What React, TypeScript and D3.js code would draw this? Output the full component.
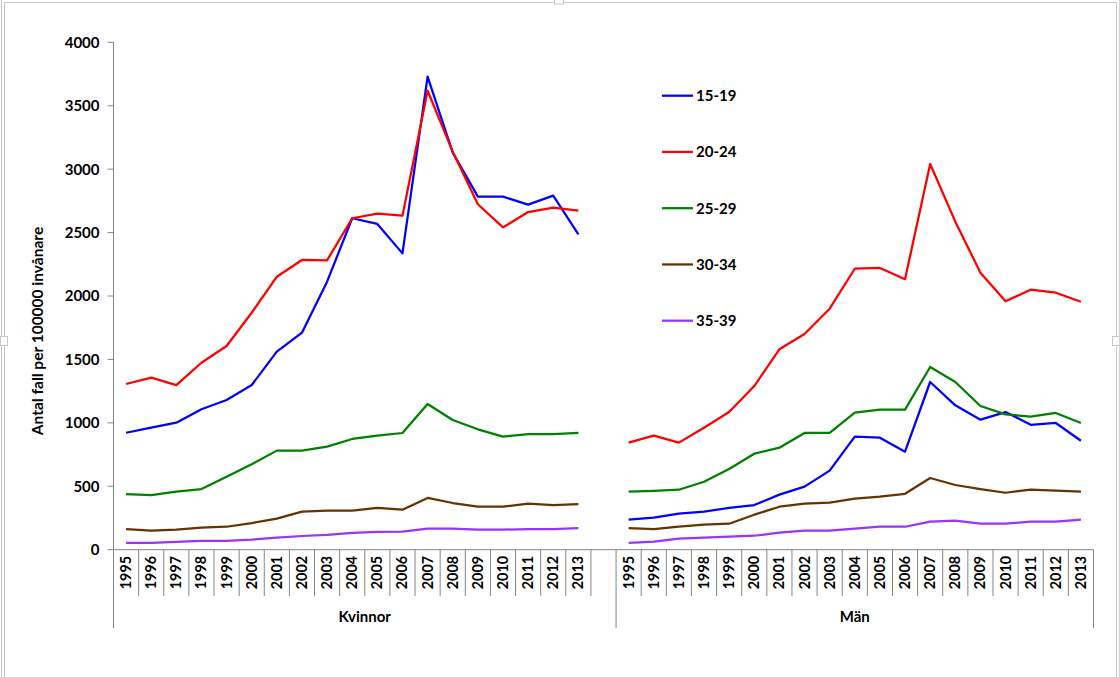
import React from "react";
import * as d3 from "d3";

const years = ["1995","1996","1997","1998","1999","2000","2001","2002","2003","2004","2005","2006","2007","2008","2009","2010","2011","2012","2013"];
const groups = ["Kvinnor", "Män"];
const seriesNames = ["15-19", "20-24", "25-29", "30-34", "35-39"];
const seriesColors = ["#0000FF", "#FF0000", "#008000", "#663300", "#9933FF"];
const yTicks = [0, 500, 1000, 1500, 2000, 2500, 3000, 3500, 4000];

// Kvinnor
const k1519 = [922, 962, 1001, 1107, 1180, 1298, 1561, 1711, 2113, 2613, 2568, 2336, 3729, 3130, 2783, 2783, 2720, 2791, 2486];
const k2024 = [1306, 1356, 1298, 1474, 1606, 1868, 2152, 2284, 2281, 2613, 2649, 2633, 3618, 3138, 2723, 2541, 2662, 2696, 2673];
const k2529 = [439, 431, 457, 478, 576, 673, 781, 781, 812, 873, 899, 920, 1149, 1022, 949, 891, 912, 912, 920];
const k3034 = [163, 150, 158, 174, 181, 210, 245, 300, 308, 308, 329, 315, 408, 368, 339, 339, 363, 352, 360];
const k3539 = [53, 53, 61, 69, 69, 79, 95, 108, 116, 132, 140, 142, 166, 166, 158, 158, 163, 163, 171];

// Män
const m1519 = [237, 252, 284, 300, 329, 352, 434, 497, 623, 891, 883, 773, 1322, 1138, 1025, 1085, 985, 999, 859];
const m2024 = [844, 899, 844, 962, 1085, 1290, 1580, 1700, 1900, 2215, 2221, 2132, 3041, 2586, 2184, 1958, 2050, 2026, 1955];
const m2529 = [457, 463, 473, 536, 636, 757, 804, 920, 920, 1080, 1104, 1104, 1440, 1322, 1133, 1067, 1049, 1078, 999];
const m3034 = [171, 163, 181, 197, 205, 276, 339, 363, 371, 402, 418, 441, 565, 510, 478, 449, 473, 465, 457];
const m3539 = [53, 63, 87, 95, 103, 110, 134, 150, 150, 166, 181, 181, 221, 229, 205, 205, 221, 221, 237];

const kSeries = [k1519, k2024, k2529, k3034, k3539];
const mSeries = [m1519, m2024, m2529, m3034, m3539];

export default function App() {
  const W = 1119, H = 677;
  const left = 113.5, right = 1093.5, top = 42.3, bottom = 549.7;
  // 19 Kvinnor + 1 blank + 19 Män
  const nCats = years.length * 2 + 1;
  const x = d3.scaleBand<number>().domain(d3.range(nCats)).range([left, right]).padding(0);
  const y = d3.scaleLinear().domain([0, 4000]).range([bottom, top]);
  const bw = x.bandwidth();
  const kIdx = (i: number) => i;
  const mIdx = (i: number) => i + years.length + 1;

  const line = (idxFn: (i: number) => number) =>
    d3.line<number>().x((_, i) => (x(idxFn(i)) as number) + bw / 2).y((d) => y(d));

  const font = "Lato, 'Open Sans', sans-serif";
  const axisColor = "#868686";
  const groupBounds = [0, years.length + 1, nCats];

  return (
    <svg width={W} height={H} style={{ position: "absolute", left: 0, top: 0, background: "#fff" }} fontFamily={font}>
      {/* chart area frame (selection border) */}
      <g stroke="#c8c8c8" strokeWidth={1} fill="none">
        <line x1={1.5} y1={0} x2={1.5} y2={H} />
        <line x1={4.5} y1={2} x2={4.5} y2={H} />
        <line x1={4.5} y1={2.5} x2={1116} y2={2.5} />
        <line x1={1116.5} y1={2} x2={1116.5} y2={H} />
        <rect x={0.5} y={336.5} width={7} height={9} fill="#fff" />
        <rect x={1112.5} y={336.5} width={7} height={9} fill="#fff" />
        <rect x={554.5} y={-1} width={9} height={5} fill="#fff" />
      </g>

      {/* y axis */}
      <line x1={left} y1={top} x2={left} y2={bottom} stroke={axisColor} />
      {yTicks.map((t) => (
        <g key={t}>
          <line x1={left - 6} x2={left} y1={y(t)} y2={y(t)} stroke={axisColor} />
          <text x={left - 14} y={y(t)} dy="0.36em" textAnchor="end" fontSize={15} fontWeight="bold" fill="#000">
            {t}
          </text>
        </g>
      ))}
      <text
        transform={`translate(43,331) rotate(-90)`}
        textAnchor="middle"
        fontSize={15.5}
        fontWeight="bold"
        fill="#000"
      >
        Antal fall per 100000 invånare
      </text>

      {/* x axis */}
      <line x1={left} y1={bottom} x2={right} y2={bottom} stroke={axisColor} />
      {d3.range(nCats + 1).map((i) => {
        const xx = i < nCats ? (x(i) as number) : right;
        const isGroup = groupBounds.includes(i);
        return <line key={i} x1={xx} x2={xx} y1={bottom} y2={isGroup ? 628 : 596} stroke={axisColor} />;
      })}
      {years.map((yr, i) => (
        <g key={"k" + yr}>
          <text
            transform={`translate(${(x(kIdx(i)) as number) + bw / 2 + 5},${556}) rotate(-90)`}
            textAnchor="end"
            fontSize={14.3}
            fontWeight="bold"
            fill="#000"
          >
            {yr}
          </text>
          <text
            transform={`translate(${(x(mIdx(i)) as number) + bw / 2 + 5},${556}) rotate(-90)`}
            textAnchor="end"
            fontSize={14.3}
            fontWeight="bold"
            fill="#000"
          >
            {yr}
          </text>
        </g>
      ))}
      <text x={((x(0) as number) + (x(years.length + 1) as number)) / 2} y={622} textAnchor="middle" fontSize={15} fontWeight="bold" fill="#000">
        {groups[0]}
      </text>
      <text x={((x(years.length + 1) as number) + right) / 2} y={622} textAnchor="middle" fontSize={15} fontWeight="bold" fill="#000">
        {groups[1]}
      </text>

      {/* lines */}
      {kSeries.map((s, si) => (
        <path key={"k" + si} d={line(kIdx)(s) as string} fill="none" stroke={seriesColors[si]} strokeWidth={2.25} strokeLinejoin="round" />
      ))}
      {mSeries.map((s, si) => (
        <path key={"m" + si} d={line(mIdx)(s) as string} fill="none" stroke={seriesColors[si]} strokeWidth={2.25} strokeLinejoin="round" />
      ))}

      {/* legend */}
      {seriesNames.map((n, i) => {
        const ly = 95.7 + i * 56.25;
        return (
          <g key={n}>
            <line x1={662} x2={693} y1={ly} y2={ly} stroke={seriesColors[i]} strokeWidth={2.25} />
            <text x={696} y={ly} dy="0.36em" fontSize={15} fontWeight="bold" fill="#000">
              {n}
            </text>
          </g>
        );
      })}
    </svg>
  );
}
